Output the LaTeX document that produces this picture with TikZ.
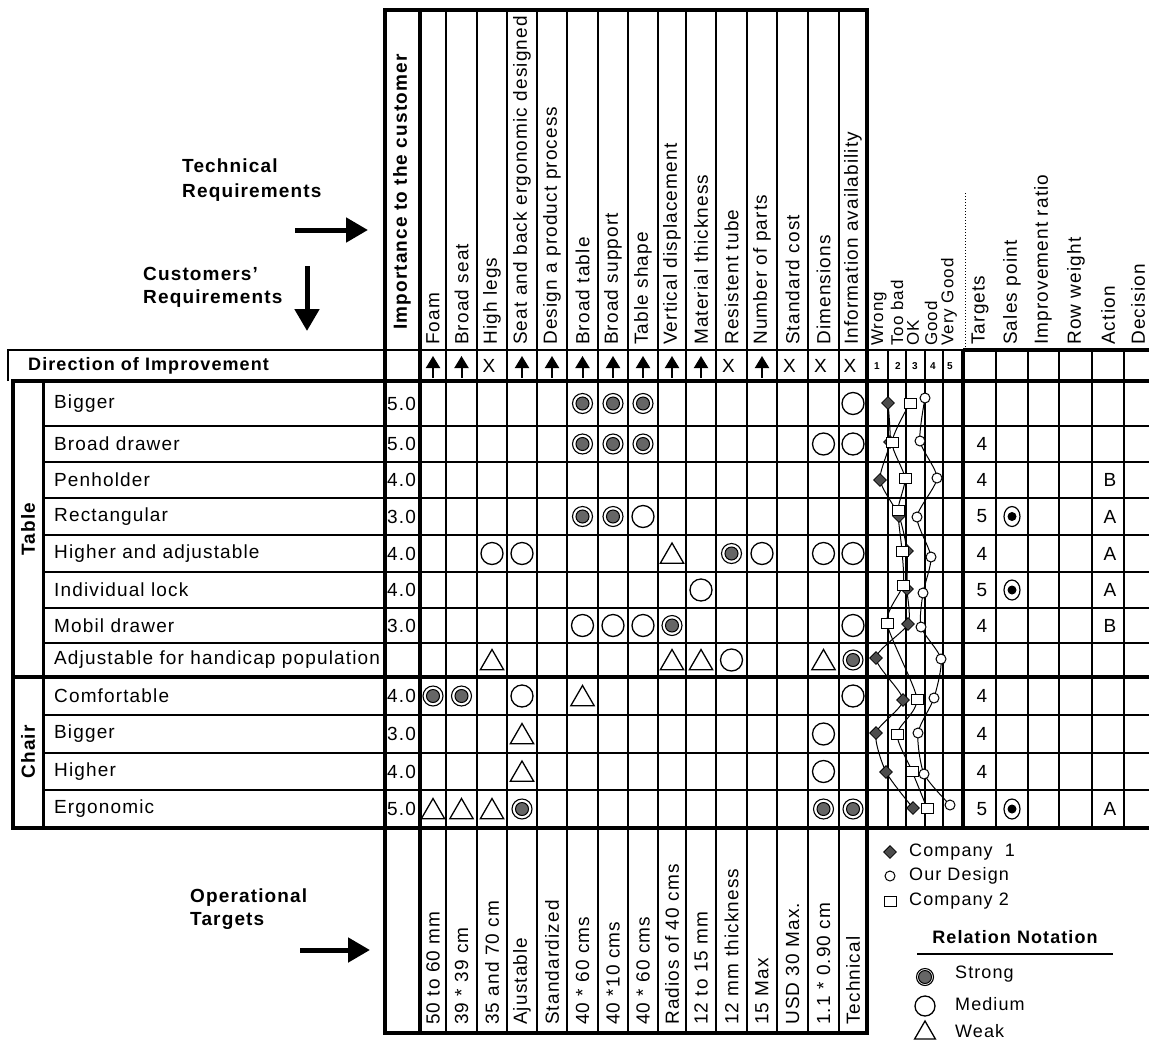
\documentclass[tikz,border=0pt]{standalone}
\usepackage{fontspec}
\setmainfont{Liberation Sans}[LetterSpace=6]
\usetikzlibrary{arrows.meta,shapes.geometric,calc}
\newcommand{\hqsize}[1]{\fontsize{#1}{#1}\selectfont}

\tikzset{
  thinline/.style={line width=1.3pt},
  thickline/.style={line width=4pt},
  hdrtext/.style={rotate=90,anchor=west,inner sep=0pt},
  reqtext/.style={anchor=west,inner sep=0pt},
  relstrong/.style={circle,draw,line width=1.1pt,minimum size=20pt,inner sep=0pt,
    path picture={\fill[black!60,draw=black,line width=1pt] (path picture bounding box.center) circle (6.5pt);}},
  relmedium/.style={circle,draw,line width=1.3pt,minimum size=22pt,inner sep=0pt},
  relweak/.style={regular polygon,regular polygon sides=3,draw,line width=1.3pt,
    minimum size=27pt,inner sep=0pt,yshift=-3pt},
  salespt/.style={ellipse,draw,line width=1.2pt,minimum width=16pt,minimum height=20pt,inner sep=0pt,
    path picture={\fill (path picture bounding box.center) circle (4.5pt);}},
  bmone/.style={diamond,draw,fill=black!70,minimum size=13pt,inner sep=0pt,line width=0.8pt},
  bmour/.style={circle,draw,fill=white,minimum size=10pt,inner sep=0pt,line width=1pt},
  bmtwo/.style={rectangle,draw,fill=white,minimum width=12pt,minimum height=10pt,inner sep=0pt,line width=1pt},
  profile/.style={line width=1pt},
  uparr/.style={line width=2pt,-{Triangle[length=12pt,width=14pt]}},
  bigarrow/.style={line width=5pt,-{Triangle[length=22pt,width=24pt]}},
}

\begin{document}
\begin{tikzpicture}[x=1pt,y=-1pt,font=\hqsize{19}]
\useasboundingbox[fill=white] (0,0) rectangle (1149,1042);

% side labels
\node[reqtext,align=left,font=\bfseries\fontsize{19}{25}\selectfont] (techlab) at (182,180) {Technical\\Requirements};
\node[reqtext,align=left,font=\bfseries\fontsize{19}{23}\selectfont] (custlab) at (143,287) {Customers'\\Requirements};
\node[reqtext,align=left,font=\bfseries\fontsize{19}{23}\selectfont] (oplab) at (190,909) {Operational\\Targets};
\coordinate (techA) at (295,230); \coordinate (techB) at (368,230);
\coordinate (custA) at (307,266); \coordinate (custB) at (307,331);
\coordinate (opA) at (300,950);   \coordinate (opB) at (370,950);
\draw[bigarrow] (techA) -- (techB);
\draw[bigarrow] (custA) -- (custB);
\draw[bigarrow] (opA) -- (opB);

% grid
\foreach \x in {446,477,507,537,567,598,628,658,686,716,747,777,808,839}
  \draw[thinline] (\x,10) -- (\x,1033);
\foreach \x in {888,906,925,943,996,1028,1059,1092,1124}
  \draw[thinline] (\x,350) -- (\x,828);
\foreach \y in {426,462,498,535,572,608,643,715,753,790}
  \draw[thinline] (43,\y) -- (1149,\y);
\draw[thinline] (8,381) -- (8,350) -- (963,350);
\draw[thickline] (963,350) -- (1149,350);
\foreach \y in {381,677,828}
  \draw[thickline] (11,\y) -- (1149,\y);
\draw[thickline] (13,381) -- (13,830);
\draw[line width=3pt] (43,381) -- (43,828);
\foreach \x in {385,420,867}
  \draw[thickline] (\x,8) -- (\x,1035);
\draw[thickline] (963,350) -- (963,828);
\draw[thickline] (385,10) -- (867,10);
\draw[thickline] (385,1033) -- (867,1033);
\draw[dotted,line width=1pt] (965,193) -- (965,350);

% technical requirements
\foreach \x/\t [count=\c] in {433/Foam,461.5/Broad seat,492/High legs,522/Seat and back ergonomic designed,
    552/Design a product process,582.5/Broad table,613/Broad support,643/Table shape,
    672/Vertical displacement,701/Material thickness,731.5/Resistent tube,762/Number of parts,
    792.5/Standard cost,823.5/Dimensions,853/Information availability} {
  \coordinate (col\c) at (\x,0);
  \node[hdrtext] (tr\c) at (\x,345) {\t};
}
\node[hdrtext,font=\bfseries\hqsize{19}] (imphdr) at (402,330) {Importance to the customer};
\foreach \x/\t [count=\n] in {879/Wrong,897/Too bad,913/OK,931/Good,949/Very Good}
  \node[hdrtext,font=\hqsize{17}] (bm\n) at (\x,346) {\t};
\foreach \x/\t [count=\n] in {980/Targets,1012/Sales point,1043/Improvement ratio,1076/Row weight,1108/Action,1138/Decision}
  \node[hdrtext] (rh\n) at (\x,345) {\t};

% direction of improvement
\node[reqtext,font=\bfseries\hqsize{18}] (dirlab) at (28,366) {Direction of Improvement};
\foreach \c in {1,2,4,5,6,7,8,9,10,12} {
  \coordinate (dir\c) at ($(col\c)+(0,366)$);
  \draw[uparr] ([yshift=-12pt]dir\c) -- ([yshift=10pt]dir\c);
}
\foreach \c in {3,11,13,14,15}
  \node (dirx\c) at ($(col\c)+(-3,366)$) {X};
\foreach \x [count=\n] in {877,898,915,933,950}
  \node[font=\bfseries\hqsize{10}] (bn\n) at (\x,366) {\n};

% customers' requirements
\node[rotate=90,font=\bfseries\hqsize{19}] (cattable) at (28,529) {Table};
\node[rotate=90,font=\bfseries\hqsize{19}] (catchair) at (28,752) {Chair};
\foreach \y/\lab/\imp [count=\r] in {403.5/Bigger/5.0,444/Broad drawer/5.0,480/Penholder/4.0,
    516.5/Rectangular/3.0,553.5/Higher and adjustable/4.0,590/Individual lock/4.0,
    625.5/Mobil drawer/3.0,660/Adjustable for handicap population/,696/Comfortable/4.0,
    734/Bigger/3.0,771.5/Higher/4.0,809/Ergonomic/5.0} {
  \coordinate (row\r) at (0,\y);
  \node[reqtext] (req\r) at (54,\y) {\lab};
  \node[reqtext] (imp\r) at (387,\y) {\imp};
}

% relationships
\foreach \r/\c/\s in {1/6/relstrong,1/7/relstrong,1/8/relstrong,1/15/relmedium,
    2/6/relstrong,2/7/relstrong,2/8/relstrong,2/14/relmedium,2/15/relmedium,
    4/6/relstrong,4/7/relstrong,4/8/relmedium,
    5/3/relmedium,5/4/relmedium,5/9/relweak,5/11/relstrong,5/12/relmedium,5/14/relmedium,5/15/relmedium,
    6/10/relmedium,
    7/6/relmedium,7/7/relmedium,7/8/relmedium,7/9/relstrong,7/15/relmedium,
    8/3/relweak,8/9/relweak,8/10/relweak,8/11/relmedium,8/14/relweak,8/15/relstrong,
    9/1/relstrong,9/2/relstrong,9/4/relmedium,9/6/relweak,9/15/relmedium,
    10/4/relweak,10/14/relmedium,
    11/4/relweak,11/14/relmedium,
    12/1/relweak,12/2/relweak,12/3/relweak,12/4/relstrong,12/14/relstrong,12/15/relstrong}
  \node[\s] (m\r-\c) at (col\c |- row\r) {};

% competitive benchmark
\foreach \r/\x/\y in {1/888/403,2/890/442,3/880/480,4/899/516,5/907/551,6/907/589,
    7/908/624,8/876/658,9/903/700,10/876/733,11/886/772,12/913/808}
  \coordinate (one\r) at (\x,\y);
\foreach \r/\x/\y in {1/925/398,2/920/441,3/937/478,4/917/517,5/931/557,6/923/593,
    7/921/627,8/941/659,9/934/698,10/918/733,11/924/774,12/950/805}
  \coordinate (our\r) at (\x,\y);
\foreach \r/\x/\y in {1/910/403,2/892/442,3/905/478,4/898/510,5/902/551,6/903/585,
    7/887/623,9/917/699,10/897/734,11/912/771,12/927/808}
  \coordinate (two\r) at (\x,\y);
\draw[profile] plot[smooth,tension=0.4] coordinates {(one1) (one2) (one3) (one4) (one5) (one6) (one7) (one8) (one9) (one10) (one11) (one12)};
\draw[profile] plot[smooth,tension=0.4] coordinates {(our1) (our2) (our3) (our4) (our5) (our6) (our7) (our8) (our9) (our10) (our11) (our12)};
\draw[profile] plot[smooth,tension=0.4] coordinates {(two1) (two2) (two3) (two4) (two5) (two6) (two7) (two9) (two10) (two11) (two12)};
\foreach \r in {1,...,12} {
  \node[bmone] (mkone\r) at (one\r) {};
  \node[bmour] (mkour\r) at (our\r) {};
}
\foreach \r in {1,...,7,9,10,11,12}
  \node[bmtwo] (mktwo\r) at (two\r) {};

% targets, sales point, action
\foreach \r/\v in {2/4,3/4,4/5,5/4,6/5,7/4,9/4,10/4,11/4,12/5}
  \node (tg\r) at (982,0 |- row\r) {\v};
\foreach \r in {4,6,12}
  \node[salespt] (sp\r) at (1012,0 |- row\r) {};
\foreach \r/\v in {3/B,4/A,5/A,6/A,7/B,12/A}
  \node (ac\r) at (1110,0 |- row\r) {\v};

% operational targets
\foreach \t [count=\c] in {50 to 60 mm,39 * 39 cm,35 and 70 cm,Ajustable,Standardized,40 * 60 cms,
    40 *10 cms,40 * 60 cms,Radios of 40 cms,12 to 15 mm,12 mm thickness,15 Max,USD 30 Max.,
    1.1 * 0.90 cm,Technical}
  \node[hdrtext] (ot\c) at ($(col\c)+(0,1025)$) {\t};

% legend
\node[bmone] (lgone) at (890,852) {};
\node[reqtext,font=\hqsize{18}] (lgonet) at (909,852) {Company\ \ 1};
\node[bmour] (lgour) at (890,876) {};
\node[reqtext,font=\hqsize{18}] (lgourt) at (909,876) {Our Design};
\node[bmtwo] (lgtwo) at (890,901) {};
\node[reqtext,font=\hqsize{18}] (lgtwot) at (909,901) {Company 2};
\node[font=\bfseries\hqsize{18}] (relnot) at (1015,937) {Relation Notation};
\draw[line width=2pt] (917,954) -- (1113,954);
\node[relstrong,minimum size=17pt] (lgs) at (925,977) {};
\node[reqtext,font=\hqsize{18}] (lgst) at (955,974) {Strong};
\node[relmedium,minimum size=20pt] (lgm) at (925,1006) {};
\node[reqtext,font=\hqsize{18}] (lgmt) at (955,1004) {Medium};
\node[relweak,minimum size=24pt] (lgw) at (925,1030) {};
\node[reqtext,font=\hqsize{18}] (lgwt) at (955,1031) {Weak};
\end{tikzpicture}
\end{document}
